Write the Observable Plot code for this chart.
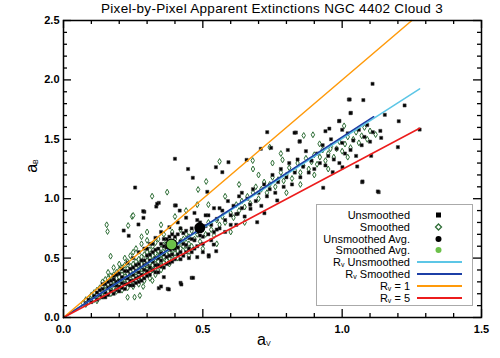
<!DOCTYPE html>
<html><head><meta charset="utf-8">
<script src="https://cdn.jsdelivr.net/npm/d3@7"></script>
<script src="https://cdn.jsdelivr.net/npm/@observablehq/plot@0.6"></script>
<style>
body{margin:0;background:#fff;font-family:"Liberation Sans",Arial,sans-serif;}
#wrap{position:relative;width:500px;height:358px;}
#title{position:absolute;left:0;width:544px;top:1px;text-align:center;font-size:13.5px;letter-spacing:0.3px;}
.ax{position:absolute;font-size:16px;}
#legend{position:absolute;left:316px;top:204px;width:157px;height:102px;border:1.5px solid #aaa;background:#fff;box-sizing:border-box;font-size:11px;}
.row{position:absolute;left:0;height:12px;line-height:12px;}
.lab{position:absolute;white-space:nowrap;text-align:right;}
sub{font-size:7px;vertical-align:-1px;}
</style></head>
<body><div id="wrap"></div>
<script>
// ---- data ----
const title = "Pixel-by-Pixel Apparent Extinctions NGC 4402 Cloud 3";
const xTicks = [0, 0.5, 1.0, 1.5];
const yTicks = [0, 0.5, 1.0, 1.5, 2.0, 2.5];
const xMinor = [0.1,0.2,0.3,0.4,0.6,0.7,0.8,0.9,1.1,1.2,1.3,1.4];
const yMinor = [0.1,0.2,0.3,0.4,0.6,0.7,0.8,0.9,1.1,1.2,1.3,1.4,1.6,1.7,1.8,1.9,2.1,2.2,2.3,2.4];

const unsmoothed = [
[0.08,0.12],[0.09,0.15],[0.10,0.13],[0.11,0.18],[0.12,0.15],[0.12,0.21],[0.13,0.19],[0.14,0.17],[0.14,0.24],[0.15,0.21],[0.15,0.28],[0.16,0.19],[0.16,0.25],[0.17,0.31],[0.17,0.22],[0.18,0.27],[0.18,0.35],[0.19,0.23],[0.19,0.30],[0.20,0.26],[0.20,0.37],[0.21,0.29],[0.21,0.41],[0.22,0.24],[0.22,0.33],[0.23,0.28],[0.23,0.39],[0.23,0.46],[0.24,0.31],[0.24,0.36],[0.25,0.27],[0.25,0.42],[0.25,0.50],[0.26,0.33],[0.26,0.39],[0.27,0.30],[0.27,0.45],[0.27,0.55],[0.28,0.36],[0.28,0.42],[0.29,0.33],[0.29,0.48],[0.29,0.58],[0.30,0.39],[0.30,0.45],[0.30,0.52],[0.31,0.36],[0.31,0.42],[0.31,0.62],[0.32,0.47],[0.32,0.55],[0.33,0.38],[0.33,0.50],[0.33,0.67],[0.34,0.44],[0.34,0.58],[0.35,0.48],[0.35,0.54],[0.35,0.72],[0.36,0.42],[0.36,0.60],[0.37,0.51],[0.37,0.66],[0.38,0.46],[0.38,0.57],[0.38,0.76],[0.39,0.62],[0.39,0.53],[0.40,0.68],[0.40,0.49],[0.41,0.59],[0.41,0.80],[0.42,0.64],[0.42,0.55],[0.43,0.71],[0.43,0.52],[0.44,0.61],[0.44,0.84],[0.45,0.67],[0.45,0.58],[0.46,0.75],[0.46,0.55],[0.47,0.65],[0.47,0.88],[0.48,0.72],[0.48,0.60],[0.49,0.80],[0.50,0.68],[0.50,0.62],[0.51,0.77],[0.52,0.86],[0.52,0.70],[0.53,0.78],[0.54,0.92],[0.54,0.72],[0.55,0.83],[0.56,0.75],[0.57,0.90],[0.58,0.82],[0.59,0.98],[0.60,0.86],[0.60,0.78],[0.61,0.94],[0.62,0.87],[0.63,1.02],[0.64,0.92],[0.65,0.85],[0.66,1.00],[0.67,0.95],[0.68,1.08],[0.69,0.98],[0.70,1.05],[0.71,0.94],[0.72,1.12],[0.73,1.02],[0.74,1.08],[0.75,1.20],[0.76,1.05],[0.77,1.14],[0.78,1.25],[0.79,1.10],[0.80,1.18],[0.81,1.30],[0.82,1.12],[0.83,1.22],[0.84,1.33],[0.85,1.18],[0.86,1.27],[0.87,1.40],[0.88,1.22],[0.89,1.32],[0.90,1.25],[0.91,1.38],[0.92,1.30],[0.93,1.45],[0.94,1.28],[0.95,1.36],[0.96,1.50],[0.97,1.33],[0.98,1.42],[0.99,1.30],[1.00,1.47],[1.01,1.38],[1.02,1.55],[1.03,1.41],[1.04,1.49],[1.05,1.36],[1.06,1.58],[1.07,1.45],[1.08,1.52],[1.09,1.62],[1.10,1.48],[1.11,1.56],
[0.13,0.23],[0.14,0.28],[0.15,0.17],[0.16,0.30],[0.17,0.27],[0.18,0.20],[0.18,0.32],[0.19,0.27],[0.19,0.36],[0.20,0.22],[0.20,0.31],[0.21,0.34],[0.21,0.25],[0.22,0.28],[0.22,0.39],[0.23,0.33],[0.24,0.27],[0.24,0.41],[0.25,0.36],[0.25,0.31],[0.26,0.44],[0.26,0.29],[0.27,0.38],[0.27,0.34],[0.28,0.48],[0.28,0.31],[0.29,0.40],[0.29,0.44],[0.30,0.35],[0.30,0.58],[0.31,0.48],[0.31,0.53],[0.32,0.40],[0.32,0.62],[0.33,0.44],[0.33,0.57],[0.34,0.50],[0.34,0.38],[0.35,0.62],[0.35,0.43],[0.36,0.53],[0.36,0.66],[0.37,0.45],[0.37,0.59],[0.38,0.52],[0.38,0.68],[0.39,0.47],[0.39,0.70],[0.40,0.58],[0.40,0.62],[0.41,0.53],[0.41,0.70],[0.42,0.49],[0.42,0.75],[0.43,0.62],[0.44,0.55],[0.44,0.73],[0.45,0.50],[0.46,0.66],[0.47,0.58],[0.48,0.82],[0.49,0.69],[0.50,0.55],[0.51,0.86],[0.53,0.65],[0.55,0.74],[0.56,0.92],[0.58,0.72],[0.62,0.78],[0.64,1.05],
[0.40,1.336],[0.447,1.25],[0.464,1.176],[0.257,1.094],[0.342,0.965],[0.333,0.934],[0.29,0.89],[0.287,0.839],[0.269,0.783],[0.234,0.688],[0.40,0.943],[0.417,0.90],[0.516,1.058],[1.024,1.835],[0.731,1.56],[0.834,1.557],[0.847,1.48],[0.94,1.568],[0.954,1.59],[0.989,1.652],[1.0,1.58],[0.708,1.42],[0.745,1.428],[0.805,1.41],[0.657,1.327],[0.592,1.307],[0.547,1.265],[0.57,1.223],[1.109,1.967],[1.027,1.835],[1.076,1.83],[1.031,1.723],[1.224,1.785],[1.153,1.706],[1.203,1.652],[0.99,1.655],[1.137,1.571],[1.14,1.512],[1.278,1.582],[1.2,1.434],[1.104,1.361],[1.054,1.271],[1.072,1.139],[1.131,1.055],[0.966,1.223],[1.001,1.265],[0.539,0.614],[0.548,0.558],[0.521,0.513],[0.695,0.802],[0.721,0.878],[0.767,0.985],[0.625,0.873],[0.671,0.915],[1.073,1.145],[1.128,1.061],[0.932,1.092],[0.848,1.484],[0.829,1.555],[1.03,1.72],[0.46,0.334],[0.374,0.241],[0.42,0.292],[0.342,0.247],[0.286,0.895],[0.336,0.957],[0.216,0.732],[0.403,0.943],[0.423,0.278],[0.465,0.334],[0.378,0.236],[0.521,0.524],[0.48,0.508],[0.35,0.261],[0.36,0.34]
];

const smoothed = [
[0.07,0.12],[0.08,0.15],[0.08,0.11],[0.09,0.16],[0.09,0.13],[0.10,0.17],[0.10,0.14],[0.10,0.19],[0.11,0.15],[0.11,0.18],[0.11,0.21],[0.12,0.16],[0.12,0.19],[0.12,0.23],[0.12,0.14],
[0.13,0.18],[0.13,0.21],[0.13,0.25],[0.13,0.17],[0.14,0.19],[0.14,0.22],[0.14,0.26],[0.14,0.30],[0.14,0.18],[0.15,0.20],[0.15,0.23],[0.15,0.27],[0.15,0.32],[0.15,0.19],[0.16,0.21],[0.16,0.24],[0.16,0.28],[0.16,0.33],[0.16,0.38],[0.16,0.22],[0.17,0.23],[0.17,0.26],[0.17,0.29],[0.17,0.35],[0.17,0.20],[0.18,0.22],[0.18,0.25],[0.18,0.28],[0.18,0.31],[0.18,0.36],[0.18,0.42],
[0.19,0.24],[0.19,0.27],[0.19,0.30],[0.19,0.33],[0.19,0.38],[0.19,0.22],[0.20,0.25],[0.20,0.28],[0.20,0.31],[0.20,0.34],[0.20,0.40],[0.20,0.45],[0.21,0.23],[0.21,0.27],[0.21,0.30],[0.21,0.33],[0.21,0.36],[0.21,0.42],[0.22,0.26],[0.22,0.29],[0.22,0.32],[0.22,0.35],[0.22,0.38],[0.22,0.44],[0.22,0.50],[0.23,0.28],[0.23,0.31],[0.23,0.34],[0.23,0.37],[0.23,0.41],[0.23,0.47],[0.23,0.25],[0.24,0.29],[0.24,0.33],[0.24,0.36],[0.24,0.39],[0.24,0.43],[0.24,0.52],
[0.25,0.30],[0.25,0.34],[0.25,0.37],[0.25,0.40],[0.25,0.45],[0.25,0.55],[0.25,0.26],[0.26,0.31],[0.26,0.35],[0.26,0.38],[0.26,0.42],[0.26,0.47],[0.26,0.58],[0.27,0.33],[0.27,0.36],[0.27,0.40],[0.27,0.44],[0.27,0.49],[0.27,0.28],[0.28,0.34],[0.28,0.38],[0.28,0.41],[0.28,0.45],[0.28,0.51],[0.28,0.62],[0.29,0.35],[0.29,0.39],[0.29,0.43],[0.29,0.47],[0.29,0.53],[0.29,0.31],[0.30,0.37],[0.30,0.41],[0.30,0.44],[0.30,0.48],[0.30,0.55],[0.30,0.65],
[0.31,0.38],[0.31,0.42],[0.31,0.46],[0.31,0.50],[0.31,0.57],[0.31,0.33],[0.32,0.40],[0.32,0.44],[0.32,0.48],[0.32,0.52],[0.32,0.60],[0.33,0.41],[0.33,0.45],[0.33,0.49],[0.33,0.54],[0.33,0.63],[0.33,0.36],[0.34,0.43],[0.34,0.47],[0.34,0.51],[0.34,0.56],[0.34,0.66],[0.35,0.44],[0.35,0.49],[0.35,0.53],[0.35,0.58],[0.35,0.40],[0.36,0.46],[0.36,0.51],[0.36,0.55],[0.36,0.61],[0.36,0.70],
[0.37,0.48],[0.37,0.53],[0.37,0.58],[0.37,0.64],[0.38,0.50],[0.38,0.55],[0.38,0.60],[0.38,0.45],[0.39,0.52],[0.39,0.57],[0.39,0.63],[0.39,0.72],[0.40,0.54],[0.40,0.59],[0.40,0.66],[0.41,0.56],[0.41,0.61],[0.41,0.50],[0.42,0.58],[0.42,0.64],[0.42,0.74],[0.43,0.60],[0.43,0.66],[0.44,0.57],[0.44,0.63],[0.44,0.70],[0.45,0.62],[0.45,0.68],[0.46,0.60],[0.46,0.73],
[0.47,0.66],[0.48,0.70],[0.49,0.64],[0.50,0.75],[0.51,0.70],[0.52,0.80],[0.53,0.74],[0.54,0.69],[0.55,0.82],[0.56,0.78],[0.57,0.85],[0.58,0.80],[0.60,0.88],[0.61,0.84],[0.62,0.95],[0.63,0.90],[0.64,0.98],[0.65,0.93],[0.66,1.02],[0.67,0.96],[0.68,1.05],[0.69,1.10],[0.70,1.00],
[0.71,1.08],[0.72,1.14],[0.73,1.05],[0.74,1.12],[0.75,1.18],[0.76,1.10],[0.77,1.16],[0.78,1.22],[0.79,1.15],[0.80,1.20],[0.81,1.26],[0.82,1.17],[0.83,1.24],[0.84,1.30],[0.85,1.22],[0.86,1.28],[0.87,1.34],[0.88,1.25],[0.89,1.31],[0.90,1.37],[0.91,1.29],[0.92,1.35],[0.93,1.41],[0.94,1.32],[0.95,1.38],[0.96,1.44],[0.97,1.35],[0.98,1.42],[0.99,1.48],[1.00,1.40],[1.01,1.46],[1.02,1.52],[1.03,1.43],[1.04,1.50],[1.05,1.56],[1.06,1.47],[1.07,1.53],[1.08,1.60],[1.09,1.50],[1.10,1.57],[1.12,1.54],
[0.512,1.145],[0.372,1.055],[0.318,1.021],[0.246,0.85],[0.155,0.78],[0.158,0.724],[0.232,0.774],[0.483,1.077],[0.862,1.532],[0.895,1.538],[1.007,1.613],[0.56,1.313],[0.679,1.321],[0.74,1.434],[0.786,1.327],[0.919,1.462],[0.958,1.42],[0.25,0.859],[0.319,0.311],[0.286,0.261],[0.255,0.171],[0.274,0.185],[0.23,0.17],[0.169,0.516],[0.52,0.95],[0.58,1.02],[0.63,1.12],[0.55,0.62],[0.60,0.72],[0.65,0.80],[0.45,0.52],[0.50,0.58],[0.40,0.85],[0.35,0.78],[0.30,0.72],[0.28,0.68],[0.44,0.90],[0.48,0.95],[0.70,1.20],[0.75,1.30],[0.80,1.05],[0.85,1.12],[0.90,1.20],[0.95,1.25],[1.02,1.35],[0.78,1.38],[0.68,1.25]
];

const unsmoothedAvg = [[0.489, 0.755]];
const smoothedAvg = [[0.3875, 0.614]];

const rvUnsmoothed = [[0, 0], [1.278, 1.925]];
const rvSmoothed = [[0, 0], [1.113, 1.69]];
const rv1 = [[0, 0], [1.25, 2.5]];
const rv5 = [[0, 0], [1.278, 1.593]];

const colors = {light: "#5cc6e6", dark: "#1c3fa6", orange: "#ff9a0a", red: "#ec1c1c", green: "#2f6e37", avgGreen: "#6cc04a"};

// ---- chart ----
const W = 500, H = 358, ML = 63, MR = 19, MT = 20, MB = 41;
const plotW = W - ML - MR, plotH = H - MT - MB;
const major = 8, minor = 4;
const chart = Plot.plot({
  width: W, height: H,
  marginLeft: ML, marginRight: MR, marginTop: MT, marginBottom: MB,
  x: {domain: [0, 1.5]},
  y: {domain: [0, 2.5]},
  style: {fontFamily: "'Liberation Sans', Arial, sans-serif", fontSize: "11px", color: "black", background: "white"},
  marks: [
    Plot.dot(smoothed, {x: "0", y: "1", symbol: "diamond", r: 1.8, fill: "white", stroke: colors.green, strokeWidth: 1}),
    Plot.dot(unsmoothed, {x: "0", y: "1", symbol: "square", r: 1.8, fill: "black", stroke: "#444", strokeWidth: 0.5}),
    Plot.line(rvUnsmoothed, {x: "0", y: "1", stroke: colors.light, strokeWidth: 1.5}),
    Plot.line(rvSmoothed, {x: "0", y: "1", stroke: colors.dark, strokeWidth: 1.5}),
    Plot.line(rv1, {x: "0", y: "1", stroke: colors.orange, strokeWidth: 1.5}),
    Plot.line(rv5, {x: "0", y: "1", stroke: colors.red, strokeWidth: 1.5}),
    Plot.dot(unsmoothedAvg, {x: "0", y: "1", r: 5.5, fill: "black"}),
    Plot.dot(smoothedAvg, {x: "0", y: "1", r: 5.5, fill: colors.avgGreen, stroke: "black", strokeWidth: 1.2}),
    // inward ticks on all four sides
    Plot.tickX(xTicks, {x: d => d, insetTop: plotH - major, stroke: "black", strokeWidth: 1.3}),
    Plot.tickX(xTicks, {x: d => d, insetBottom: plotH - major, stroke: "black", strokeWidth: 1.3}),
    Plot.tickX(xMinor, {x: d => d, insetTop: plotH - minor, stroke: "black", strokeWidth: 1.3}),
    Plot.tickX(xMinor, {x: d => d, insetBottom: plotH - minor, stroke: "black", strokeWidth: 1.3}),
    Plot.tickY(yTicks, {y: d => d, insetRight: plotW - major, stroke: "black", strokeWidth: 1.3}),
    Plot.tickY(yTicks, {y: d => d, insetLeft: plotW - major, stroke: "black", strokeWidth: 1.3}),
    Plot.tickY(yMinor, {y: d => d, insetRight: plotW - minor, stroke: "black", strokeWidth: 1.3}),
    Plot.tickY(yMinor, {y: d => d, insetLeft: plotW - minor, stroke: "black", strokeWidth: 1.3}),
    Plot.frame({stroke: "black", strokeWidth: 1.5}),
    Plot.axisX({anchor: "bottom", ticks: xTicks, tickSize: 0, tickPadding: 8, tickFormat: d3.format(".1f"), label: null, fontWeight: "bold", fontSize: 11}),
    Plot.axisY({anchor: "left", ticks: yTicks, tickSize: 0, tickPadding: 4, tickFormat: d3.format(".1f"), label: null, fontWeight: "bold", fontSize: 11})
  ]
});

const wrap = document.getElementById("wrap");
wrap.appendChild(chart);

const t = document.createElement("div");
t.id = "title"; t.textContent = title; wrap.appendChild(t);

const xl = document.createElement("div");
xl.className = "ax"; xl.style.left = "257px"; xl.style.top = "331px";
xl.innerHTML = "a<sub>V</sub>"; wrap.appendChild(xl);

const yl = document.createElement("div");
yl.className = "ax"; yl.style.left = "25px"; yl.style.top = "157px"; yl.style.transform = "rotate(-90deg)";
yl.innerHTML = "a<sub>B</sub>"; wrap.appendChild(yl);

// legend
const legendItems = [
  {label: "Unsmoothed", kind: "sq"},
  {label: "Smoothed", kind: "dia"},
  {label: "Unsmoothed Avg.", kind: "dotBlack"},
  {label: "Smoothed Avg.", kind: "dotGreen"},
  {label: "R<sub>v</sub> Unsmoothed", kind: "line", color: colors.light},
  {label: "R<sub>v</sub> Smoothed", kind: "line", color: colors.dark},
  {label: "R<sub>v</sub> = 1", kind: "line", color: colors.orange},
  {label: "R<sub>v</sub> = 5", kind: "line", color: colors.red}
];
const lg = document.createElement("div");
lg.id = "legend"; wrap.appendChild(lg);
legendItems.forEach((it, i) => {
  const r = document.createElement("div");
  r.className = "row"; r.style.top = (4 + i * 11.8) + "px"; r.style.width = "157px";
  let sym = "";
  if (it.kind === "sq") sym = `<rect x="19" y="3.5" width="5" height="5" fill="black"/>`;
  else if (it.kind === "dia") sym = `<path d="M21.5,3 L24.5,6 L21.5,9 L18.5,6Z" fill="white" stroke="${colors.green}" stroke-width="1.3"/>`;
  else if (it.kind === "dotBlack") sym = `<circle cx="21.5" cy="6" r="3" fill="black"/>`;
  else if (it.kind === "dotGreen") sym = `<circle cx="21.5" cy="6" r="3" fill="${colors.avgGreen}"/>`;
  else sym = `<line x1="0" x2="45" y1="6" y2="6" stroke="${it.color}" stroke-width="1.8"/>`;
  r.innerHTML = `<span class="lab" style="right:64px">${it.label}</span>` +
    `<svg style="position:absolute;left:100px;top:0" width="46" height="12">${sym}</svg>`;
  lg.appendChild(r);
});
</script></body></html>
